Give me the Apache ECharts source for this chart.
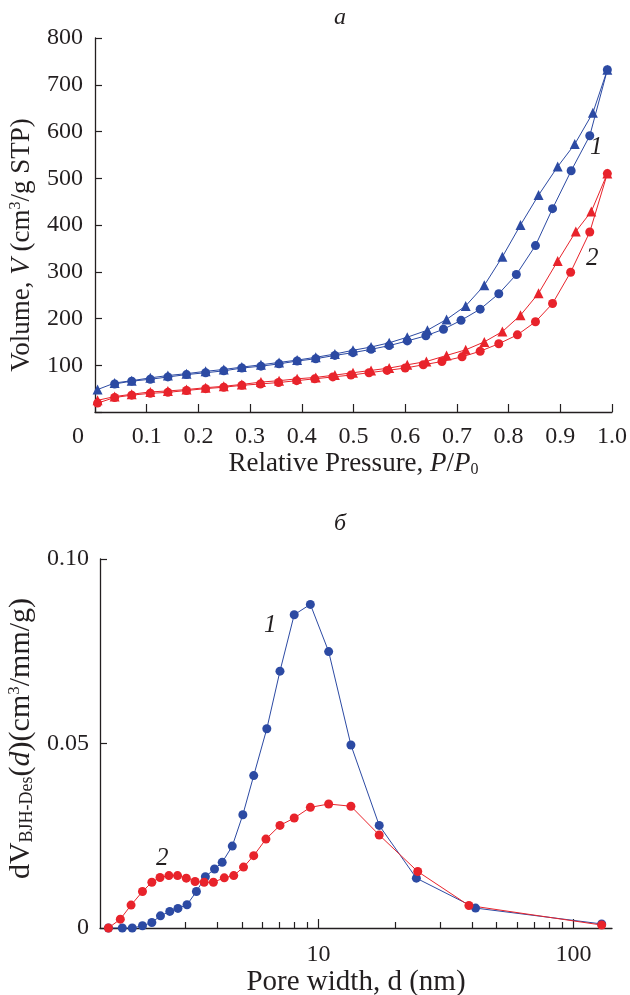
<!DOCTYPE html>
<html>
<head>
<meta charset="utf-8">
<script src="https://cdn.jsdelivr.net/npm/echarts@6/dist/echarts.min.js"></script>
<style>html,body{margin:0;padding:0;background:#fff}#c{width:630px;height:995px}</style>
</head>
<body>
<div id="c"></div>
<script>
// ---- Panel a: isotherms (P/P0, V cm3/g STP) ----
var blueAds = [[0.005,48],[0.038,62],[0.071,67],[0.107,73],[0.141,78],[0.177,82],[0.214,87],[0.249,91],[0.284,96],[0.321,101],[0.356,106],[0.391,111],[0.427,117],[0.464,124],[0.499,132],[0.534,139],[0.569,148],[0.604,160],[0.643,175],[0.680,198],[0.717,227],[0.753,271],[0.788,332],[0.823,400],[0.858,464],[0.895,525],[0.928,573],[0.963,640],[0.991,732]];
var blueDes = [[0.991,732],[0.957,591],[0.921,516],[0.885,435],[0.852,356],[0.815,294],[0.781,253],[0.745,220],[0.708,196],[0.674,177],[0.640,163],[0.604,152],[0.569,142],[0.534,134],[0.499,127],[0.464,121],[0.427,114],[0.391,109],[0.356,103],[0.321,98],[0.284,94],[0.249,88],[0.214,84],[0.177,80],[0.141,75],[0.107,70],[0.071,66],[0.038,60]];
var redAds = [[0.005,25],[0.038,33],[0.071,38],[0.107,43],[0.141,45],[0.177,48],[0.214,52],[0.249,55],[0.284,59],[0.321,64],[0.356,67],[0.391,71],[0.427,74],[0.464,79],[0.499,84],[0.534,89],[0.569,94],[0.604,101],[0.641,108],[0.680,121],[0.717,133],[0.753,150],[0.788,172],[0.823,207],[0.858,254],[0.895,323],[0.930,386],[0.960,429],[0.991,510]];
var redDes = [[0.991,510],[0.957,385],[0.920,299],[0.885,232],[0.852,193],[0.817,165],[0.781,146],[0.745,130],[0.710,118],[0.671,108],[0.635,101],[0.600,94],[0.565,89],[0.530,84],[0.495,79],[0.460,75],[0.425,71],[0.390,67],[0.355,63],[0.320,60],[0.284,57],[0.249,53],[0.214,50],[0.177,46],[0.141,42],[0.107,40],[0.071,36],[0.038,31],[0.005,19]];

// ---- Panel б: BJH pore size distribution ----
var pore1 = [1.50,1.70,1.86,2.04,2.22,2.40,2.61,2.81,3.05,3.32,3.60,3.91,4.19,4.59,5.05,5.57,6.27,7.06,8.03,9.29,10.96,13.4,17.3,24.2,41.3,129];
var dv1 = [0,0,0,0.0006,0.0015,0.0033,0.0045,0.0053,0.0063,0.0099,0.0139,0.0160,0.0178,0.0222,0.0307,0.0413,0.0540,0.0696,0.0849,0.0877,0.0749,0.0496,0.0278,0.0135,0.0054,0.0011];
var pore2 = [1.50,1.67,1.84,2.04,2.22,2.39,2.59,2.80,3.03,3.28,3.56,3.87,4.27,4.65,5.08,5.57,6.22,7.06,8.03,9.29,10.96,13.4,17.3,24.5,38.9,129];
var dv2 = [0,0.0024,0.0062,0.0099,0.0124,0.0137,0.0142,0.0142,0.0135,0.0126,0.0124,0.0124,0.0136,0.0142,0.0165,0.0196,0.0241,0.0278,0.0298,0.0327,0.0336,0.0330,0.0252,0.0153,0.0061,0.0008];

var xTicksA = [0,0.1,0.2,0.3,0.4,0.5,0.6,0.7,0.8,0.9,1.0];
var yTicksA = [100,200,300,400,500,600,700,800];
var majorTicksB = [10,100];
var minorTicksB = [2,3,4,5,6,7,8,9,20,30,40,50,60,70,80,90];

var FF = '"Liberation Serif","Times New Roman",serif';
var TXT = '#231f20';
var BLUE = '#2c4aa3';
var RED = '#e8232b';
var TICK = 24, NAME = 27;

function zip(xs, ys){ return xs.map(function(x,i){ return [x, ys[i]]; }); }

var axisLine = {show:true, lineStyle:{color:TXT, width:1.3}};
var lab = {color:TXT, fontFamily:FF, fontSize:TICK};

var chart = echarts.init(document.getElementById('c'), null, {renderer:'canvas'});
chart.setOption({
  animation:false,
  backgroundColor:'#fff',
  title:[
    {text:'a', left:329, top:1, textStyle:{fontFamily:FF, fontStyle:'italic', fontWeight:'normal', fontSize:24, color:TXT}},
    {text:'б', left:329, top:507, textStyle:{fontFamily:FF, fontStyle:'italic', fontWeight:'normal', fontSize:24, color:TXT}}
  ],
  grid:[
    {left:95, right:18, top:38, height:374, containLabel:false, outerBoundsMode:'none'},
    {left:100, right:18, top:559, height:369, containLabel:false, outerBoundsMode:'none'}
  ],
  xAxis:[
    {gridIndex:0, type:'value', min:0, max:1, interval:0.1,
     axisLine:axisLine, splitLine:{show:false},
     axisTick:{inside:true, length:8, lineStyle:{color:TXT, width:1.2}},
     axisLabel:Object.assign({}, lab, {margin:13,
        formatter:function(v){ return Math.abs(v)<1e-9 ? '{z|0}' : v.toFixed(1); },
        rich:{z:{fontFamily:FF, fontSize:TICK, color:TXT, padding:[0,34,0,0]}}}),
     name:'Relative Pressure, {i|P}/{i|P}{sub|0}', nameLocation:'middle', nameGap:37,
     nameTextStyle:{fontFamily:FF, fontSize:NAME, color:TXT,
       rich:{i:{fontFamily:FF, fontSize:NAME, fontStyle:'italic', color:TXT},
             sub:{fontFamily:FF, fontSize:16, color:TXT, verticalAlign:'bottom', lineHeight:16, padding:[12,0,0,0]}}}
    },
    {gridIndex:1, type:'log', min:1.39, max:141.6, position:'bottom',
     axisLine:axisLine, splitLine:{show:false},
     axisTick:{inside:true, length:9, customValues:majorTicksB, lineStyle:{color:TXT, width:1.2}},
     axisLabel:Object.assign({}, lab, {margin:15, customValues:majorTicksB}),
     name:'Pore width, d (nm)', nameLocation:'middle', nameGap:37,
     nameTextStyle:{fontFamily:FF, fontSize:29, color:TXT}
    },
    {gridIndex:1, type:'log', min:1.39, max:141.6, position:'bottom',
     axisLine:{show:false}, splitLine:{show:false}, axisLabel:{show:false},
     axisTick:{inside:true, length:6, customValues:minorTicksB, lineStyle:{color:TXT, width:1.2}}
    }
  ],
  yAxis:[
    {gridIndex:0, type:'value', min:0, max:800, interval:100,
     axisLine:axisLine, splitLine:{show:false},
     axisTick:{inside:true, length:7, lineStyle:{color:TXT, width:1.2}},
     axisLabel:Object.assign({}, lab, {margin:12,
        formatter:function(v){ return yTicksA.indexOf(v)>=0 ? String(v) : ''; }}),
     name:'Volume, {i|V} (cm{sup|3}/g STP)', nameLocation:'middle', nameGap:55,
     nameTextStyle:{fontFamily:FF, fontSize:NAME, color:TXT, padding:[0,40,0,0],
       rich:{i:{fontFamily:FF, fontSize:NAME, fontStyle:'italic', color:TXT},
             sup:{fontFamily:FF, fontSize:16, color:TXT, verticalAlign:'top', lineHeight:16, padding:[0,0,12,0]}}}
    },
    {gridIndex:1, type:'value', min:0, max:0.1, interval:0.05,
     axisLine:axisLine, splitLine:{show:false},
     axisTick:{inside:true, length:7, lineStyle:{color:TXT, width:1.2}},
     axisLabel:Object.assign({}, lab, {margin:11,
        formatter:function(v){ return Math.abs(v)<1e-9 ? '0' : v.toFixed(2); }}),
     name:'{n|dV}{sub|BJH-Des}{n|(}{i|d}{n|)(cm}{sup|3}{n|/mm/g)}', nameLocation:'middle', nameGap:57,
     nameTextStyle:{fontFamily:FF, fontSize:30, color:TXT, padding:[0,0,0,10],
       rich:{n:{fontFamily:FF, fontSize:30, color:TXT},
             i:{fontFamily:FF, fontSize:30, fontStyle:'italic', color:TXT},
             sub:{fontFamily:FF, fontSize:18, color:TXT, verticalAlign:'bottom', lineHeight:18, padding:[13,0,0,0]},
             sup:{fontFamily:FF, fontSize:17, color:TXT, verticalAlign:'top', lineHeight:17, padding:[0,0,13,0]}}}
    }
  ],
  graphic:[
    {type:'text', left:590, top:135, style:{text:'1', font:'italic 25px '+FF, fill:TXT}},
    {type:'text', left:586, top:246, style:{text:'2', font:'italic 25px '+FF, fill:TXT}},
    {type:'text', left:264, top:613, style:{text:'1', font:'italic 25px '+FF, fill:TXT}},
    {type:'text', left:156, top:846, style:{text:'2', font:'italic 25px '+FF, fill:TXT}}
  ],
  series:[
    {type:'line', xAxisIndex:0, yAxisIndex:0, data:blueAds, symbol:'triangle', symbolSize:10,
     itemStyle:{color:BLUE}, lineStyle:{color:BLUE, width:1}},
    {type:'line', xAxisIndex:0, yAxisIndex:0, data:blueDes, symbol:'circle', symbolSize:9,
     itemStyle:{color:BLUE}, lineStyle:{color:BLUE, width:1}},
    {type:'line', xAxisIndex:0, yAxisIndex:0, data:redAds, symbol:'triangle', symbolSize:10,
     itemStyle:{color:RED}, lineStyle:{color:RED, width:1}},
    {type:'line', xAxisIndex:0, yAxisIndex:0, data:redDes, symbol:'circle', symbolSize:9,
     itemStyle:{color:RED}, lineStyle:{color:RED, width:1}},
    {type:'line', xAxisIndex:1, yAxisIndex:1, data:zip(pore1, dv1), symbol:'circle', symbolSize:9,
     itemStyle:{color:BLUE}, lineStyle:{color:BLUE, width:1}},
    {type:'line', xAxisIndex:1, yAxisIndex:1, data:zip(pore2, dv2), symbol:'circle', symbolSize:9,
     itemStyle:{color:RED}, lineStyle:{color:RED, width:1}}
  ]
});
</script>
</body>
</html>
